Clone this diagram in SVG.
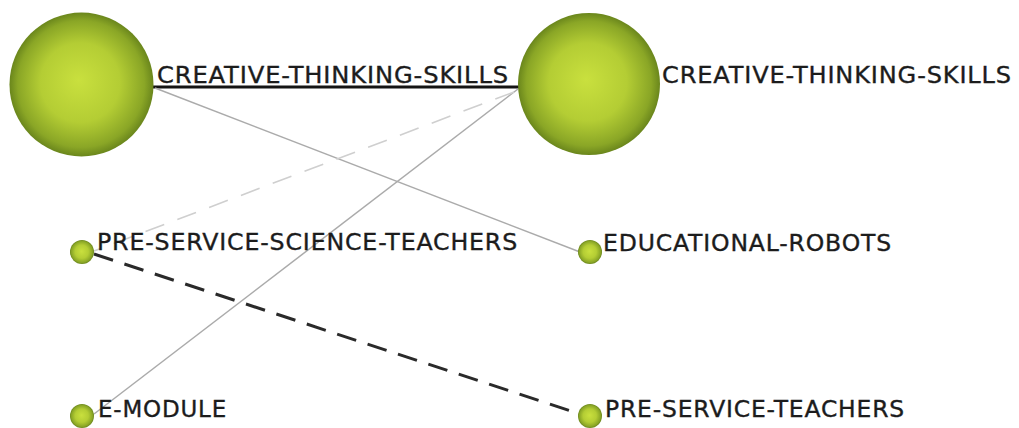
<svg xmlns="http://www.w3.org/2000/svg" width="1019" height="428" viewBox="0 0 1019 428">
  <defs>
    <radialGradient id="ball" cx="0.5" cy="0.5" r="0.5" fx="0.48" fy="0.47">
      <stop offset="0" stop-color="#c9e03e"/>
      <stop offset="0.55" stop-color="#b4cd34"/>
      <stop offset="0.88" stop-color="#8aa626"/>
      <stop offset="1" stop-color="#6a861c"/>
    </radialGradient>
  </defs>
  <style>
    .lbl { font-family: "DejaVu Sans", Verdana, sans-serif; font-size: 23px; fill: #1c1c1c; stroke: #1c1c1c; stroke-width: 0.35; letter-spacing: 0.8px; }
    .node { fill: url(#ball); }
    .solid { stroke: #ababab; stroke-width: 1.5; fill: none; }
    .strong { stroke: #141414; stroke-width: 3; fill: none; }
    .dashlight { stroke: #cfcfcf; stroke-width: 1.6; stroke-dasharray: 20 14; fill: none; }
    .dashdark { stroke: #2a2a2a; stroke-width: 3; stroke-dasharray: 20 12; fill: none; }
  </style>
  <rect width="1019" height="428" fill="#ffffff"/>
  <g id="connectors">
    <line class="strong" x1="150" y1="87" x2="522" y2="87"/>
    <line class="solid" x1="155" y1="88" x2="580" y2="252"/>
    <line class="solid" x1="518" y1="89" x2="94" y2="414"/>
    <line class="dashlight" x1="514" y1="92" x2="94" y2="251"/>
    <line class="dashdark" x1="94" y1="254" x2="580" y2="414"/>
  </g>
  <g id="node-cts-1">
    <circle class="node" cx="81.5" cy="84.5" r="72"/>
    <text class="lbl" x="157" y="83" textLength="352" lengthAdjust="spacingAndGlyphs">CREATIVE-THINKING-SKILLS</text>
  </g>
  <g id="node-cts-2">
    <circle class="node" cx="589" cy="84" r="71"/>
    <text class="lbl" x="662" y="83" textLength="350" lengthAdjust="spacingAndGlyphs">CREATIVE-THINKING-SKILLS</text>
  </g>
  <g id="node-pre-service-science-teachers">
    <circle class="node" cx="82" cy="252" r="12"/>
    <text class="lbl" x="97" y="250" textLength="421" lengthAdjust="spacingAndGlyphs">PRE-SERVICE-SCIENCE-TEACHERS</text>
  </g>
  <g id="node-educational-robots">
    <circle class="node" cx="590" cy="252" r="12"/>
    <text class="lbl" x="603" y="251" textLength="289" lengthAdjust="spacingAndGlyphs">EDUCATIONAL-ROBOTS</text>
  </g>
  <g id="node-e-module">
    <circle class="node" cx="82" cy="416" r="12"/>
    <text class="lbl" x="98" y="417" textLength="129" lengthAdjust="spacingAndGlyphs">E-MODULE</text>
  </g>
  <g id="node-pre-service-teachers">
    <circle class="node" cx="590" cy="416" r="12"/>
    <text class="lbl" x="605" y="417" textLength="300" lengthAdjust="spacingAndGlyphs">PRE-SERVICE-TEACHERS</text>
  </g>
</svg>
